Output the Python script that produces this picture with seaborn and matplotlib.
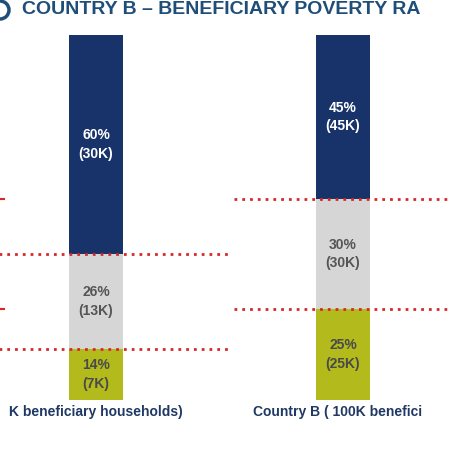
import matplotlib
matplotlib.use("Agg")
import matplotlib.pyplot as plt
from matplotlib.patches import Circle
import seaborn as sns
import pandas as pd
import numpy as np

sns.set_theme(style="white")
plt.rcParams["font.family"] = ["Liberation Sans", "DejaVu Sans"]

# data
groups = ["Country A", "Country B"]
group_labels = ["K beneficiary households)", "Country B ( 100K benefici"]
segments = ["Low", "Mid", "High"]          # bottom -> top
shares = {"Low": [14, 25], "Mid": [26, 30], "High": [60, 45]}
counts = {"Low": ["7K", "25K"], "Mid": ["13K", "30K"], "High": ["30K", "45K"]}
colors = {"Low": "#b3bb1c", "Mid": "#d6d6d6", "High": "#17336a"}
text_colors = {"Low": "#4a4a4a", "Mid": "#555555", "High": "#ffffff"}

fig = plt.figure(figsize=(4.5, 4.5), dpi=100)
ax = fig.add_axes([0, 50 / 450, 1, 365 / 450])

rows = []
cum = np.zeros(len(groups))
for seg in segments:
    cum = cum + np.array(shares[seg])
    rows.append(pd.DataFrame({"x": np.arange(len(groups)), "top": cum.copy(), "seg": seg}))
df = pd.concat(rows)

# draw tallest cumulative layer first
for seg in reversed(segments):
    d = df[df.seg == seg]
    sns.barplot(data=d, x="x", y="top", native_scale=True, width=0.22,
                color=colors[seg], saturation=1, ax=ax, edgecolor="none")

bottoms = np.zeros(len(groups))
for seg in segments:
    vals = np.array(shares[seg])
    for i in range(len(groups)):
        ax.text(i, bottoms[i] + vals[i] / 2, f"{vals[i]}%\n({counts[seg][i]})",
                ha="center", va="center", fontsize=10, fontweight="bold",
                color=text_colors[seg], linespacing=1.4)
    bottoms = bottoms + vals

# dotted separators
b1 = np.cumsum([shares["Low"][0], shares["Mid"][0]])
b2 = np.cumsum([shares["Low"][1], shares["Mid"][1]])
ax.hlines(b1, -0.4, 0.55, colors="#d62828", linestyles=(0, (1, 1.8)), lw=2)
ax.hlines(b2, 0.56, 1.45, colors="#d62828", linestyles=(0, (1, 1.8)), lw=2)
ax.hlines(b2, -0.4, -0.37, colors="#d62828", lw=1.5)

ax.set_xlim(-0.389, 1.433)
ax.set_ylim(0, 100)
ax.axis("off")

fig.patches.append(Circle((0.0, 440 / 450), 0.02, transform=fig.transFigure,
                          facecolor="white", edgecolor="#1f4e79", lw=2.5))
fig.text(0.05, 440 / 450, "COUNTRY B – BENEFICIARY POVERTY RA", fontsize=14,
         fontweight="bold", color="#1f4e79", va="center", ha="left")
fig.text(96 / 450, 38 / 450, group_labels[0], fontsize=10, fontweight="bold",
         color="#1f3864", ha="center", va="center")
fig.text(253 / 450, 38 / 450, group_labels[1], fontsize=10, fontweight="bold",
         color="#1f3864", ha="left", va="center")

fig.savefig("out.png", dpi=100)
